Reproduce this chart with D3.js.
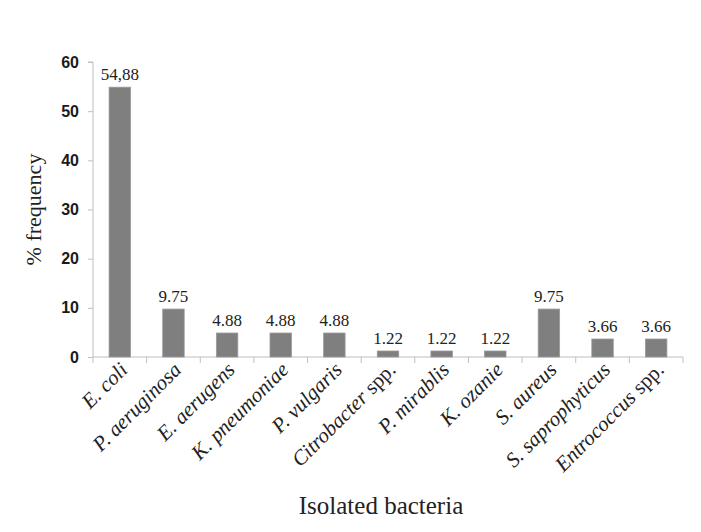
<!DOCTYPE html>
<html>
<head>
<meta charset="utf-8">
<script src="https://cdn.jsdelivr.net/npm/d3@7"></script>
<style>
  body { margin: 0; background: #fff; }
</style>
</head>
<body>
<div id="chart"></div>
<script>
// Data
var genus = ["E.", "P.", "E.", "K.", "P.", "Citrobacter", "P.", "K.", "S.", "S.", "Entrococcus"];
var species = ["coli", "aeruginosa", "aerugens", "pneumoniae", "vulgaris", "spp.", "mirablis", "ozanie", "aureus", "saprophyticus", "spp."];
var values = [54.88, 9.75, 4.88, 4.88, 4.88, 1.22, 1.22, 1.22, 9.75, 3.66, 3.66];
var valueLabels = ["54,88", "9.75", "4.88", "4.88", "4.88", "1.22", "1.22", "1.22", "9.75", "3.66", "3.66"];
var yTicks = [0, 10, 20, 30, 40, 50, 60];

var svgWidth = 701;
var svgHeight = 532;
var margin = { top: 62, right: 18, bottom: 175, left: 93 };
var width = svgWidth - margin.left - margin.right;
var height = svgHeight - margin.top - margin.bottom;

var serif = "'Liberation Serif', 'Times New Roman', serif";
var axisGrey = "#bfbfbf";

var svg = d3.select("#chart")
  .append("svg")
  .attr("width", svgWidth)
  .attr("height", svgHeight);

var chartGroup = svg.append("g")
  .attr("transform", `translate(${margin.left}, ${margin.top})`);

var idx = values.map((d, i) => i);

var xScale = d3.scaleBand()
  .domain(idx)
  .range([0, width])
  .paddingInner(0.6)
  .paddingOuter(0.3);

var yScale = d3.scaleLinear()
  .domain([0, 60])
  .range([height, 0]);

// y axis
var leftAxis = d3.axisLeft(yScale).tickValues(yTicks).tickSize(5).tickPadding(9);
var yAxis = chartGroup.append("g").call(leftAxis);
yAxis.select(".domain").attr("stroke", axisGrey).attr("d", `M-5,0H0V${height}`);
yAxis.selectAll(".tick line").attr("stroke", axisGrey);
yAxis.selectAll(".tick text")
  .attr("fill", "#1a1a1a")
  .style("font-family", "'Liberation Sans', Arial, sans-serif")
  .style("font-weight", "bold")
  .style("font-size", "16px");

// x axis: category boundary ticks
var xAxisG = chartGroup.append("g").attr("transform", `translate(0, ${height})`);
xAxisG.append("line")
  .attr("x1", 0).attr("x2", width)
  .attr("stroke", axisGrey);
var step = xScale.step();
xAxisG.selectAll(".sep")
  .data(d3.range(values.length + 1))
  .enter()
  .append("line")
  .attr("x1", d => d * step)
  .attr("x2", d => d * step)
  .attr("y1", 0)
  .attr("y2", 6)
  .attr("stroke", axisGrey);

// bars
chartGroup.selectAll(".bar")
  .data(values)
  .enter()
  .append("rect")
  .attr("x", (d, i) => xScale(i))
  .attr("y", d => yScale(d))
  .attr("width", xScale.bandwidth())
  .attr("height", d => height - yScale(d))
  .attr("fill", "#7f7f7f")
  .attr("stroke", "#9a9a9a")
  .attr("stroke-width", 0.8);

// value labels
chartGroup.selectAll(".val")
  .data(values)
  .enter()
  .append("text")
  .attr("x", (d, i) => xScale(i) + xScale.bandwidth() / 2)
  .attr("y", d => yScale(d) - 7)
  .attr("text-anchor", "middle")
  .style("font-family", serif)
  .style("font-size", "17px")
  .attr("fill", "#222")
  .text((d, i) => valueLabels[i]);

// category labels, rotated
var catText = chartGroup.selectAll(".cat")
  .data(idx)
  .enter()
  .append("text")
  .attr("text-anchor", "end")
  .attr("transform", i => `translate(${xScale(i) + xScale.bandwidth() / 2 + 9}, ${height + 14}) rotate(-45)`)
  .style("font-family", serif)
  .style("font-size", "21px")
  .attr("fill", "#222");

catText.each(function(i) {
  var t = d3.select(this);
  if (species[i] === "spp.") {
    t.append("tspan").style("font-style", "italic").text(genus[i]);
    t.append("tspan").text(" spp.");
  } else {
    t.append("tspan").style("font-style", "italic").text(genus[i] + " " + species[i]);
  }
});

// axis titles
chartGroup.append("text")
  .attr("transform", `translate(-52, ${height / 2}) rotate(-90)`)
  .attr("text-anchor", "middle")
  .style("font-family", serif)
  .style("font-size", "22px")
  .attr("fill", "#222")
  .text("% frequency");

chartGroup.append("text")
  .attr("x", width / 2 - 7)
  .attr("y", height + 157)
  .attr("text-anchor", "middle")
  .style("font-family", serif)
  .style("font-size", "25px")
  .attr("fill", "#222")
  .text("Isolated bacteria");
</script>
</body>
</html>
